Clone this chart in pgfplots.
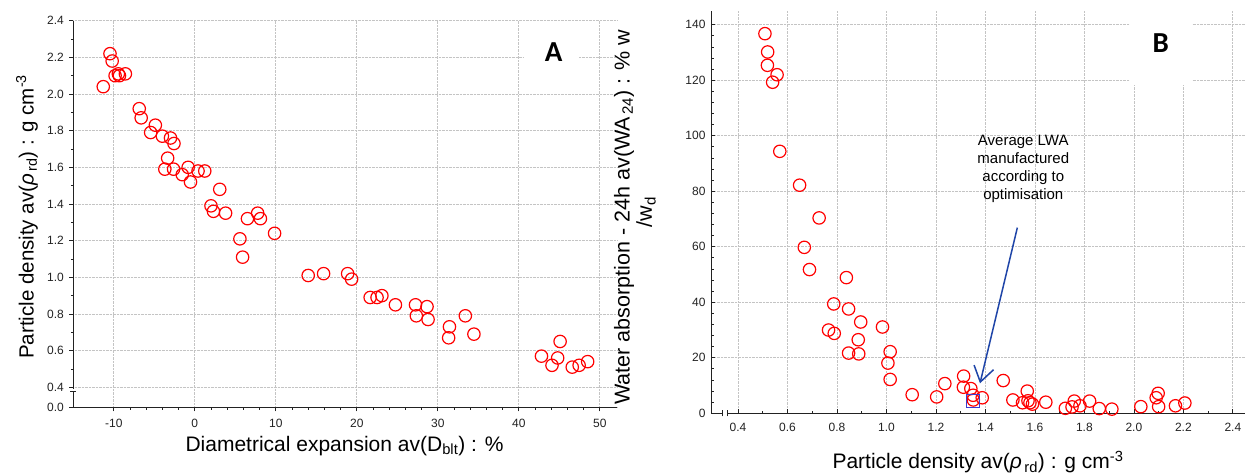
\documentclass[border=0pt]{standalone}
\usepackage{fontspec}
\setmainfont{Liberation Sans}
\newfontfamily\panelfont{Carlito}
\usepackage{pgfplots}
\pgfplotsset{compat=1.18}
\usetikzlibrary{arrows.meta}
\definecolor{mkred}{HTML}{FF0000}
\definecolor{gridc}{HTML}{C4C4C4}
\definecolor{arrowblue}{HTML}{1F45A8}
\definecolor{sqblue}{HTML}{3A3AD0}
\definecolor{axc}{HTML}{222222}

\pgfplotsset{
  panel/.style={
    scale only axis, axis lines=left, axis line style={-, axc, line width=1pt},
    grid=major, major grid style={densely dotted, gridc, line width=0.8pt},
    tick style={axc, line width=0.8pt}, major tick length=4pt, minor tick length=2.5pt,
    /pgf/number format/assume math mode=true,
    ticklabel style={font=\fontsize{12}{14}\selectfont, text=axc},
    clip=false,
  },
  redo/.style={only marks, mark=o, mark size=6.2pt, mark options={draw=mkred, line width=1.2pt}},
}

\begin{document}
\begin{tikzpicture}
\useasboundingbox (0,0) rectangle (1251pt,476pt);

% ---- A ----
\begin{axis}[panel, at={(73.3pt,68.5pt)}, anchor=south west,
  width=543.5pt, height=386.8pt,
  xmin=-15, xmax=52.1, ymin=0.2898, ymax=2.4,
  xtick={-10,0,...,50}, minor x tick num=4,
  ytick={0.2898,0.4,0.6,0.8,1.0,1.2,1.4,1.6,1.8,2.0,2.2,2.4},
  yticklabels={0.0,0.4,0.6,0.8,1.0,1.2,1.4,1.6,1.8,2.0,2.2,2.4},
  minor ytick={0.5,0.7,...,2.3},
  tick align=outside,
  xticklabel style={yshift=-4pt}, yticklabel style={xshift=-2pt}]
\fill[white] (axis cs:40.6,2.34) rectangle (axis cs:47.45,2.07);
\node[font=\panelfont\bfseries\fontsize{29}{29}\selectfont] at (axis cs:44.3,2.228) {A};
\addplot[redo] coordinates {
(-11.3,2.04) (-10.47,2.22) (-10.2,2.18) (-9.84,2.10) (-9.44,2.11) (-9.3,2.10) (-8.57,2.11)
(-6.86,1.92) (-6.62,1.87) (-4.87,1.83) (-5.45,1.79) (-4.0,1.77) (-3.0,1.76) (-2.57,1.73)
(-3.35,1.65) (-3.7,1.59) (-2.62,1.59) (-1.55,1.56) (-0.82,1.60) (-0.53,1.52) (0.40,1.58)
(1.23,1.58) (3.08,1.48) (2.0,1.39) (2.3,1.36) (3.8,1.35) (6.5,1.32) (7.76,1.35) (8.1,1.32)
(9.85,1.24) (5.57,1.21) (5.9,1.11) (14.0,1.01) (15.9,1.02) (18.87,1.02) (19.36,0.99)
(21.65,0.89) (22.5,0.89) (23.1,0.90) (24.77,0.85) (27.25,0.85) (27.35,0.79) (28.67,0.84)
(28.8,0.77) (31.44,0.73) (31.34,0.67) (33.4,0.79) (34.46,0.69) (42.8,0.57) (44.1,0.52)
(44.8,0.56) (45.1,0.65) (46.6,0.51) (47.45,0.52) (48.5,0.54)};
% axis break
\fill[white] ([xshift=-3pt]axis cs:-15,0.3918) rectangle ([xshift=3pt]axis cs:-15,0.3754);
\draw[axc, line width=0.8pt] ([xshift=-3pt]axis cs:-15,0.3754) -- ([xshift=3pt]axis cs:-15,0.3754);
\end{axis}

% ---- B ----
\begin{axis}[panel, at={(711pt,62.7pt)}, anchor=south west,
  width=534pt, height=402pt,
  xmin=0.291, xmax=2.449, ymin=0, ymax=144.86,
  xtick={0.4,0.6,...,2.41}, minor x tick num=1,
  ytick={0,20,...,140}, minor y tick num=4,
  tick align=inside,
  xticklabel style={/pgf/number format/fixed, /pgf/number format/fixed zerofill,
    /pgf/number format/precision=1, yshift=-6pt},
  yticklabel style={xshift=-2pt}]
\fill[white] (axis cs:1.984,146) rectangle (axis cs:2.234,118.3);
\node[font=\panelfont\bfseries\fontsize{29}{29}\selectfont] at (axis cs:2.109,133.3) {B};
\node[align=center, font=\fontsize{15}{18}\selectfont, text=black] at (axis cs:1.553,88.1)
  {Average LWA\\manufactured\\according to\\optimisation};
\draw[arrowblue, line width=1.5pt, -{Straight Barb[length=15pt,width=20pt,line width=1.5pt]}]
  (axis cs:1.529,66.9) -- (axis cs:1.378,10.8);
\addplot[redo] coordinates {
(0.509,136.8) (0.52,130.2) (0.519,125.4) (0.558,122.0) (0.54,119.3) (0.569,94.4)
(0.649,82.2) (0.728,70.4) (0.668,59.8) (0.689,51.8) (0.838,48.9) (0.787,39.4) (0.847,37.6)
(0.896,32.9) (0.984,31.1) (0.766,30.0) (0.789,28.8) (0.886,26.5) (0.847,21.7) (0.888,21.4)
(1.015,22.2) (1.006,18.1) (1.015,12.2) (1.104,6.7) (1.203,5.9) (1.236,10.7) (1.312,13.4)
(1.311,9.4) (1.341,8.9) (1.35,6.5) (1.351,4.8) (1.387,5.6) (1.472,11.8) (1.511,4.8)
(1.55,3.8) (1.569,8.0) (1.572,4.5) (1.58,3.8) (1.59,3.3) (1.644,4.0) (1.723,1.8) (1.759,4.4)
(1.75,2.3) (1.782,2.7) (1.821,4.4) (1.86,1.7) (1.911,1.5) (2.028,2.4) (2.098,7.2) (2.09,5.6)
(2.10,2.4) (2.168,2.7) (2.206,3.7)};
\addplot[only marks, mark=square, mark size=6.5pt, mark options={draw=sqblue, line width=1.2pt}]
  coordinates {(1.350,4.3)};
% axis break
\fill[white] ([yshift=-2pt]axis cs:0.3354,0) rectangle ([yshift=2pt]axis cs:0.3556,0);
\draw[axc, line width=0.8pt] ([yshift=-3pt]axis cs:0.3354,0) -- ([yshift=3pt]axis cs:0.3354,0);
\draw[axc, line width=0.8pt] ([yshift=-3pt]axis cs:0.3556,0) -- ([yshift=3pt]axis cs:0.3556,0);
\end{axis}

% ---- axis labels ----
\node[font=\fontsize{21}{24}\selectfont, text=black] at (344.5pt,30pt)
  {Diametrical expansion av(D\textsubscript{blt}) : \%};
\node[rotate=90, font=\fontsize{20.5}{24}\selectfont, text=black] at (27pt,259.3pt)
  {Particle density av(\textit{ρ}\textsubscript{\,rd}) : g cm\textsuperscript{-3}};
\node[font=\fontsize{21}{24}\selectfont, text=black] at (978pt,14pt)
  {Particle density av(\textit{ρ}\textsubscript{\,rd}) : g cm\textsuperscript{-3}};
\node[rotate=90, font=\fontsize{21.5}{24}\selectfont, text=black] at (624pt,259pt)
  {Water absorption - 24h av(WA\textsubscript{\,24}) : \% w};
\node[rotate=90, font=\fontsize{21.5}{24}\selectfont, text=black] at (646pt,264pt)
  {/w\textsubscript{d}};
\end{tikzpicture}
\end{document}
